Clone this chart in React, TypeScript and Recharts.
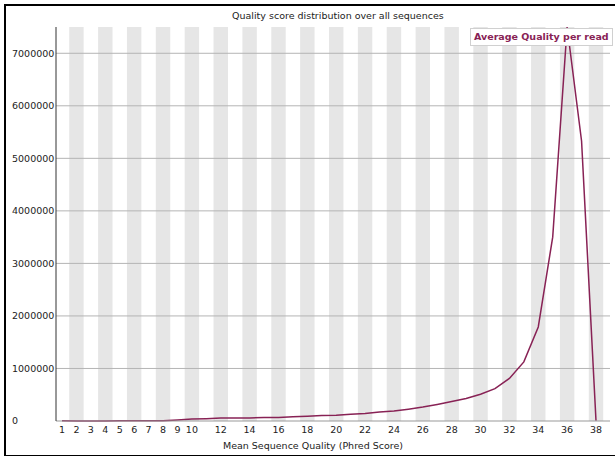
import React from "react";
import { LineChart, Line, XAxis, YAxis, ReferenceArea, ReferenceLine } from "recharts";

const qualityScores = [
  1, 2, 3, 4, 5, 6, 7, 8, 9, 10, 11, 12, 13, 14, 15, 16, 17, 18, 19,
  20, 21, 22, 23, 24, 25, 26, 27, 28, 29, 30, 31, 32, 33, 34, 35, 36, 37, 38,
];
const readCounts = [
  3000, 2000, 2000, 2000, 3000, 3000, 4000, 5000, 20000, 40000, 45000, 55000, 55000,
  58000, 65000, 68000, 80000, 92000, 105000, 110000, 130000, 145000, 170000, 190000,
  225000, 265000, 315000, 370000, 430000, 510000, 615000, 810000, 1125000, 1790000,
  3500000, 7500000, 5330000, 5000,
];
const xTicks = [1, 2, 3, 4, 5, 6, 7, 8, 9, 10, 12, 14, 16, 18, 20, 22, 24, 26, 28, 30, 32, 34, 36, 38];
const yTicks = [0, 1000000, 2000000, 3000000, 4000000, 5000000, 6000000, 7000000];
const bandCenters = [2, 4, 6, 8, 10, 12, 14, 16, 18, 20, 22, 24, 26, 28, 30, 32, 34, 36, 38];

const data = qualityScores.map((q, i) => ({ q, count: readCounts[i] }));

const FONT = "'DejaVu Sans', sans-serif";
const LINE_COLOR = "#882255";

const YTick = (props: any) => {
  const { y, payload } = props;
  return (
    <text x={12} y={y} dy={3.4} fontSize={9.5} fontFamily={FONT} fill="#222" textAnchor="start">
      {payload.value}
    </text>
  );
};

const XTick = (props: any) => {
  const { x, payload } = props;
  return (
    <text x={x} y={432.5} fontSize={9.5} fontFamily={FONT} fill="#222" textAnchor="middle">
      {payload.value}
    </text>
  );
};

export default function App() {
  return (
    <div style={{ position: "absolute", left: 0, top: 0, width: 615, height: 456, background: "#fff", overflow: "hidden" }}>
      <div
        style={{
          position: "absolute",
          left: 4,
          top: 4,
          width: 640,
          height: 449,
          borderLeft: "2px solid #000",
          borderTop: "2px solid #000",
          borderBottom: "2px solid #000",
        }}
      />
      <div
        style={{
          position: "absolute",
          left: 232,
          width: 200,
          top: 10,
          textAlign: "center",
          fontFamily: FONT,
          fontSize: 9.5,
          color: "#222",
          whiteSpace: "nowrap",
        }}
      >
        Quality score distribution over all sequences
      </div>
      <div
        style={{
          position: "absolute",
          left: 213,
          width: 200,
          top: 440,
          textAlign: "center",
          fontFamily: FONT,
          fontSize: 9.5,
          color: "#222",
          whiteSpace: "nowrap",
        }}
      >
        Mean Sequence Quality (Phred Score)
      </div>
      <div style={{ position: "absolute", left: 0, top: 0 }}>
        <LineChart width={615} height={456} data={data} margin={{ top: 27, right: 5, bottom: 15, left: 0 }}>
          {bandCenters.map((c) => (
            <ReferenceArea key={c} x1={c - 0.5} x2={c + 0.5} fill="#e6e6e6" fillOpacity={1} stroke="none" ifOverflow="visible" />
          ))}
          {yTicks.slice(1).map((t) => (
            <ReferenceLine key={t} y={t} stroke="#b4b4b4" strokeWidth={1} />
          ))}
          <XAxis
            dataKey="q"
            type="number"
            domain={[1, 38]}
            ticks={xTicks}
            interval={0}
            padding={{ left: 6, right: 14 }}
            height={20}
            tickLine={false}
            axisLine={{ stroke: "#999" }}
            tick={<XTick />}
          />
          <YAxis
            type="number"
            domain={[0, 7500000]}
            ticks={yTicks}
            width={56}
            tickLine={false}
            axisLine={{ stroke: "#333" }}
            tick={<YTick />}
          />
          <Line
            type="linear"
            dataKey="count"
            stroke={LINE_COLOR}
            strokeWidth={1.5}
            dot={false}
            isAnimationActive={false}
          />
        </LineChart>
      </div>
      <div
        style={{
          position: "absolute",
          left: 470,
          top: 28,
          border: "1px solid #d0d0d0",
          background: "#fff",
          padding: "1px 3px",
          fontFamily: FONT,
          fontSize: 9.5,
          fontWeight: "bold",
          color: LINE_COLOR,
          whiteSpace: "nowrap",
          lineHeight: "14px",
        }}
      >
        Average Quality per read
      </div>
    </div>
  );
}
